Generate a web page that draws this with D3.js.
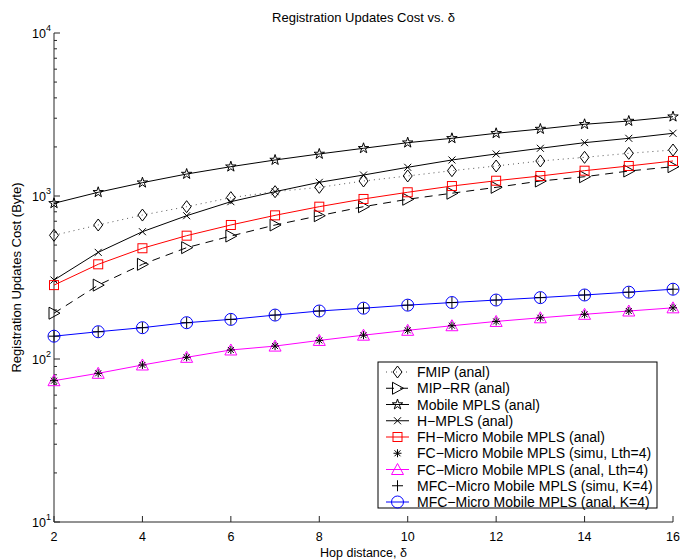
<!DOCTYPE html>
<html><head><meta charset="utf-8">
<script src="https://cdn.jsdelivr.net/npm/d3@7"></script>
<style>body{margin:0;background:#fff}svg{display:block}text{font-family:"Liberation Sans",Arial,Helvetica,sans-serif}</style>
</head><body><svg id="c" width="683" height="560"></svg>
<script>
const hops = [2,3,4,5,6,7,8,9,10,11,12,13,14,15,16];
const fmip = [574,664,764,860,977,1063,1130,1236,1327,1430,1528,1640,1727,1828,1915];
const mipRR = [191,284,381,482,568,664,757,860,955,1040,1130,1236,1313,1423,1513];
const mobileMPLS = [902,1054,1207,1364,1513,1663,1811,1962,2124,2259,2425,2576,2754,2884,3067];
const hMPLS = [305,451,604,757,923,1063,1213,1345,1500,1663,1811,1962,2124,2259,2425];
const fhMicro = [284,381,478,571,664,761,860,959,1054,1151,1241,1327,1430,1528,1640];
const fcSimu = [73.6,81.7,91.9,102.4,113.6,120,130,140,150,160,170,179,188,197,206];
const fcAnal = [73.6,81.7,91.9,102.4,113.6,120,130,140,150,160,170,179,188,197,206];
const mfcSimu = [138,147,155.6,167,175,186,197,205,214,222,230,238,247,257,268];
const mfcAnal = [138,147,155.6,167,175,186,197,205,214,222,230,238,247,257,268];
const xTicks = [2,4,6,8,10,12,14,16];
const yTicks = [10,100,1000,10000];
const seriesNames = ["FMIP (anal)","MIP\u2212RR (anal)","Mobile MPLS (anal)","H\u2212MPLS (anal)","FH\u2212Micro Mobile MPLS (anal)","FC\u2212Micro Mobile MPLS (simu, Lth=4)","FC\u2212Micro Mobile MPLS (anal, Lth=4)","MFC\u2212Micro Mobile MPLS (simu, K=4)","MFC\u2212Micro Mobile MPLS (anal, K=4)"];

const series = [
  {name:seriesNames[0], v:fmip, color:"#000", line:"dot", marker:"diamond"},
  {name:seriesNames[1], v:mipRR, color:"#000", line:"dash", marker:"tri"},
  {name:seriesNames[2], v:mobileMPLS, color:"#000", line:"solid", marker:"star"},
  {name:seriesNames[3], v:hMPLS, color:"#000", line:"solid", marker:"x"},
  {name:seriesNames[4], v:fhMicro, color:"#ff0000", line:"solid", marker:"square"},
  {name:seriesNames[5], v:fcSimu, color:"#000", line:"none", marker:"asterisk"},
  {name:seriesNames[6], v:fcAnal, color:"#ff00ff", line:"solid", marker:"triup"},
  {name:seriesNames[7], v:mfcSimu, color:"#000", line:"none", marker:"plus"},
  {name:seriesNames[8], v:mfcAnal, color:"#0000ff", line:"solid", marker:"circle"}
];
const drawOrder = [0,1,2,3,4,6,5,8,7];

const svg = d3.select("#c");
const L=54, R=673, T=33, B=522;
const x = d3.scaleLinear().domain([2,16]).range([L,R]);
const y = d3.scaleLog().domain([10,10000]).range([B,T]);

// axes
const ax = svg.append("g").attr("stroke","#262626").attr("stroke-width",1).attr("fill","none");
ax.append("line").attr("x1",L).attr("x2",L).attr("y1",T).attr("y2",B);
ax.append("line").attr("x1",L).attr("x2",R).attr("y1",B).attr("y2",B);
xTicks.forEach(t=>{ax.append("line").attr("x1",x(t)).attr("x2",x(t)).attr("y1",B).attr("y2",B-6);});
yTicks.forEach(t=>{ax.append("line").attr("x1",L).attr("x2",L+6).attr("y1",y(t)).attr("y2",y(t));});
for(let d=10; d<10000; d*=10){ for(let k=2;k<=9;k++){ const v=d*k; ax.append("line").attr("x1",L).attr("x2",L+3).attr("y1",y(v)).attr("y2",y(v)); } }

svg.selectAll(".xt").data(xTicks).enter().append("text")
  .attr("x",d=>x(d)).attr("y",B+19).attr("text-anchor","middle").attr("font-size",12.5).text(d=>d);
yTicks.forEach(t=>{
  const tx = svg.append("text").attr("x",L-3).attr("y",y(t)+5).attr("text-anchor","end").attr("font-size",12.5);
  tx.append("tspan").text("10");
  tx.append("tspan").attr("dy",-7).attr("font-size",9).text(Math.round(Math.log10(t)));
});

svg.append("text").attr("x",(L+R)/2).attr("y",22).attr("text-anchor","middle").attr("font-size",13).text("Registration Updates Cost vs. \u03b4");
svg.append("text").attr("x",(L+R)/2).attr("y",557).attr("text-anchor","middle").attr("font-size",12.5).text("Hop distance, \u03b4");
svg.append("text").attr("transform",`translate(21,${(T+B)/2}) rotate(-90)`).attr("text-anchor","middle").attr("font-size",13).text("Registration Updates Cost (Byte)");

function dashFor(l){ return l==="dot"?"1,4":l==="dash"?"8,6":null; }
function drawMarker(g, type, cx, cy, color){
  const s = g.append("g").attr("transform",`translate(${cx},${cy})`).attr("stroke",color).attr("fill","none").attr("stroke-width",1);
  if(type==="diamond") s.append("path").attr("d","M0,-6L4.5,0L0,6L-4.5,0Z");
  else if(type==="tri") s.append("path").attr("d","M-5,-6L6,0L-5,6Z");
  else if(type==="star") s.append("path").attr("d",d3.symbol(d3.symbolStar,34)());
  else if(type==="x") s.append("path").attr("d","M-3.5,-3.5L3.5,3.5M-3.5,3.5L3.5,-3.5");
  else if(type==="square") s.append("rect").attr("x",-4.5).attr("y",-4.5).attr("width",9).attr("height",9);
  else if(type==="asterisk") s.append("path").attr("d","M-4,0L4,0M0,-4L0,4M-3,-3L3,3M-3,3L3,-3");
  else if(type==="triup") s.append("path").attr("d","M0,-6L6,5L-6,5Z");
  else if(type==="plus") s.append("path").attr("d","M-5.5,0L5.5,0M0,-5.5L0,5.5");
  else if(type==="circle") s.append("circle").attr("r",6);
}

const plot = svg.append("g");
const line = d3.line().x((d,i)=>x(hops[i])).y(d=>y(d));
drawOrder.forEach(si=>{
  const s = series[si];
  if(s.line!=="none"){
    plot.append("path").attr("d",line(s.v)).attr("fill","none")
      .attr("stroke", s.line==="dot"?"#555":s.color).attr("stroke-width",1)
      .attr("stroke-dasharray",dashFor(s.line));
  }
  s.v.forEach((v,i)=>drawMarker(plot,s.marker,x(hops[i]),y(v),s.color));
});

// legend
const lg = svg.append("g");
const lx=378, ly=362, lw=279, lh=146;
lg.append("rect").attr("x",lx).attr("y",ly).attr("width",lw).attr("height",lh).attr("fill","#fff").attr("stroke","#000").attr("stroke-width",1);
series.forEach((s,i)=>{
  const cy = ly+10+i*16.25;
  if(s.line!=="none"){
    lg.append("line").attr("x1",lx+8).attr("x2",lx+31).attr("y1",cy).attr("y2",cy)
      .attr("stroke", s.line==="dot"?"#555":s.color).attr("stroke-dasharray",dashFor(s.line));
  }
  drawMarker(lg,s.marker,lx+19.5,cy,s.color);
  lg.append("text").attr("x",lx+39).attr("y",cy+5).attr("font-size",14).text(s.name);
});
</script></body></html>
